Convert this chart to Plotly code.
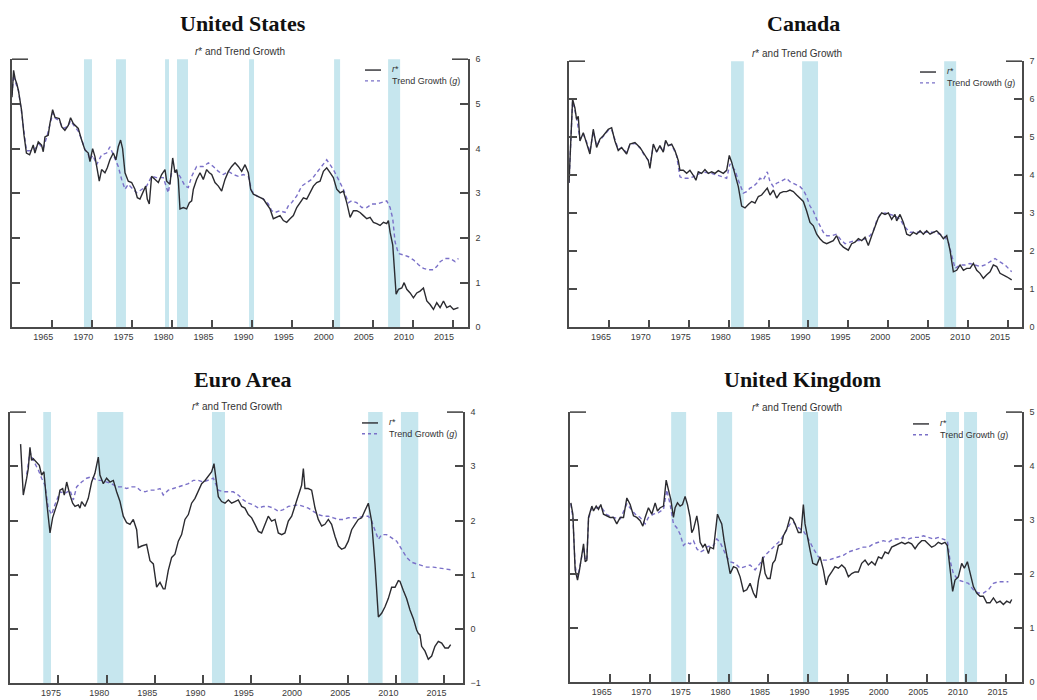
import plotly.graph_objects as go

# ---------------- United States ----------------
us_rstar_t = [1961.1, 1961.3, 1961.5, 1961.7, 1961.9, 1962.3, 1962.6, 1962.9, 1963.3, 1963.75, 1963.96,
              1964.38, 1964.79, 1965.0, 1965.21, 1965.62, 1965.83, 1966.17, 1966.46, 1967.0, 1967.29, 1967.7,
              1968.12, 1968.41, 1968.75, 1969.08, 1969.37, 1969.79, 1970.2, 1970.62, 1970.83, 1971.16, 1971.45,
              1971.74, 1971.99, 1972.28, 1972.7, 1972.99, 1973.32, 1973.74, 1974.07, 1974.36, 1974.65, 1974.9,
              1975.2, 1975.61, 1976.03, 1976.44, 1976.74, 1977.07, 1977.48, 1977.78, 1977.98, 1978.23, 1978.52,
              1978.94, 1979.36, 1979.77, 1980.19, 1980.4, 1980.81, 1981.15, 1981.44, 1981.65, 1981.85, 1982.06,
              1982.48, 1982.89, 1983.23, 1983.52, 1983.73, 1984.14, 1984.56, 1984.97, 1985.39, 1985.72, 1986.02,
              1986.43, 1986.85, 1987.26, 1987.68, 1988.1, 1988.51, 1988.93, 1989.34, 1989.76, 1990.18, 1990.59,
              1990.88, 1991.22, 1991.72, 1992.13, 1992.47, 1992.88, 1993.3, 1993.71, 1994.13, 1994.55, 1994.96,
              1995.38, 1995.79, 1996.21, 1996.63, 1997.04, 1997.46, 1997.88, 1998.29, 1998.71, 1999.12, 1999.54,
              1999.96, 2000.37, 2000.79, 2001.2, 2001.62, 2002.04, 2002.45, 2002.87, 2003.29, 2003.7, 2004.12,
              2004.53, 2004.95, 2005.37, 2005.78, 2006.2, 2006.61, 2007.03, 2007.45, 2007.86, 2008.07, 2008.28,
              2008.61, 2008.82, 2009.03, 2009.32, 2009.74, 2010.03, 2010.36, 2010.78, 2011.19, 2011.61, 2012.02,
              2012.44, 2012.86, 2013.27, 2013.69, 2014.1, 2014.52, 2014.94, 2015.35, 2015.77, 2016.19, 2016.81]
us_rstar = [5.15, 5.75, 5.55, 5.45, 5.3, 4.85, 4.3, 3.9, 3.86, 4.08, 3.9,
            4.15, 4.08, 3.93, 4.26, 4.3, 4.56, 4.87, 4.7, 4.67, 4.49, 4.41,
            4.52, 4.69, 4.56, 4.49, 4.45, 4.19, 3.97, 3.9, 3.71, 4.0, 3.82,
            3.53, 3.27, 3.53, 3.46, 3.57, 3.75, 3.9, 3.75, 4.04, 4.19, 4.0,
            3.46, 3.27, 3.24, 3.09, 2.9, 2.87, 3.05, 3.16, 2.87, 2.76, 3.38,
            3.31, 3.24, 3.42, 3.53, 3.27, 3.2, 3.79, 3.46, 3.53, 3.31, 2.65,
            2.68, 2.65, 2.79, 2.83, 3.09, 3.31, 3.46, 3.31, 3.53, 3.46, 3.42,
            3.24, 3.16, 3.05, 3.31, 3.49, 3.6, 3.68, 3.6, 3.49, 3.64, 3.46,
            3.09, 2.98, 2.94, 2.9, 2.87, 2.76, 2.65, 2.43, 2.46, 2.5, 2.39,
            2.35, 2.43, 2.5, 2.68, 2.79, 2.9, 2.87, 3.01, 3.16, 3.24, 3.27,
            3.49, 3.57, 3.46, 3.35, 3.09, 3.01, 3.05, 2.79, 2.46, 2.61, 2.61,
            2.57, 2.5, 2.43, 2.46, 2.35, 2.32, 2.28, 2.35, 2.32, 2.39, 2.13,
            1.84, 1.18, 0.74, 0.85, 0.88, 1.0, 0.85, 0.77, 0.66, 0.77, 0.81,
            0.88, 0.59, 0.51, 0.4, 0.55, 0.44, 0.59, 0.44, 0.48, 0.4, 0.44]
us_g_t = [1961.1, 1961.3, 1961.5, 1961.9, 1962.3, 1962.9, 1963.5, 1964.0, 1964.5, 1965.0, 1965.5, 1966.2,
          1966.5, 1967.0, 1967.5, 1968.1, 1968.4, 1968.8, 1969.1, 1969.4, 1969.8, 1970.2, 1970.6, 1970.8,
          1971.2, 1971.66, 1972.28, 1972.91, 1973.32, 1973.95, 1974.36, 1974.78, 1975.2, 1975.61, 1976.65,
          1977.9, 1978.52, 1979.15, 1979.98, 1980.6, 1981.02, 1981.44, 1982.06, 1982.69, 1983.1, 1983.52,
          1984.14, 1984.97, 1985.6, 1986.22, 1986.85, 1987.47, 1988.1, 1988.72, 1989.34, 1989.97, 1990.59,
          1991.01, 1991.63, 1992.47, 1993.09, 1993.5, 1993.92, 1994.55, 1995.17, 1995.59, 1996.0, 1996.63,
          1997.25, 1997.88, 1998.5, 1999.12, 1999.75, 2000.37, 2000.79, 2001.2, 2001.83, 2002.45, 2003.08,
          2003.49, 2004.12, 2004.74, 2005.37, 2005.99, 2006.61, 2007.24, 2007.86, 2008.28, 2008.61, 2008.9,
          2009.32, 2009.94, 2010.57, 2011.19, 2011.82, 2012.44, 2013.06, 2013.69, 2014.1, 2014.52, 2015.15,
          2015.77, 2016.39, 2016.81]
us_g = [5.2, 5.65, 5.5, 5.3, 4.8, 3.95, 3.95, 4.0, 4.1, 4.0, 4.3, 4.8,
        4.68, 4.62, 4.45, 4.5, 4.62, 4.52, 4.45, 4.38, 4.2, 3.98, 3.88, 3.75,
        3.85, 3.64, 3.86, 3.9, 4.04, 3.75, 3.6, 3.31, 3.09, 3.2, 3.01,
        3.16, 3.38, 3.35, 3.35, 3.01, 3.46, 3.5, 3.38, 3.16, 3.13, 3.38,
        3.6, 3.6, 3.68, 3.6, 3.49, 3.42, 3.49, 3.42, 3.38, 3.42, 3.38,
        3.05, 2.94, 2.87, 2.76, 2.61, 2.57, 2.61, 2.57, 2.72, 2.79, 2.94,
        3.16, 3.24, 3.31, 3.46, 3.6, 3.75, 3.64, 3.53, 3.31, 3.09, 2.79,
        2.83, 2.79, 2.68, 2.68, 2.76, 2.76, 2.79, 2.83, 2.68, 2.43, 1.91,
        1.65, 1.62, 1.58, 1.51, 1.4, 1.32, 1.29, 1.29, 1.36, 1.47, 1.54,
        1.54, 1.47, 1.54]
us_recessions = [(1970.08, 1971.08), (1974.08, 1975.32), (1980.2, 1980.69), (1981.69, 1983.06),
                 (1990.68, 1991.3), (2001.29, 2002.04), (2008.03, 2009.53)]

# ---------------- Canada ----------------
ca_rstar_t = [1961.0, 1961.2, 1961.45, 1961.74, 1961.95, 1962.16, 1962.37, 1962.79, 1963.2, 1963.62, 1964.04,
              1964.46, 1964.87, 1965.29, 1965.92, 1966.34, 1966.75, 1967.17, 1967.59, 1968.22, 1968.63, 1969.26,
              1969.89, 1970.51, 1970.93, 1971.14, 1971.56, 1971.98, 1972.39, 1972.81, 1973.1, 1973.44, 1973.86,
              1974.27, 1974.69, 1974.9, 1975.32, 1975.74, 1976.15, 1976.57, 1976.9, 1977.2, 1977.61, 1978.03,
              1978.45, 1978.87, 1979.29, 1979.7, 1980.33, 1980.75, 1981.08, 1981.37, 1981.79, 1982.21, 1982.63,
              1983.05, 1983.46, 1983.88, 1984.3, 1984.72, 1985.13, 1985.55, 1985.84, 1986.18, 1986.6, 1987.01,
              1987.43, 1987.85, 1988.27, 1988.68, 1989.1, 1989.52, 1989.94, 1990.36, 1990.77, 1991.19, 1991.61,
              1992.03, 1992.44, 1992.86, 1993.28, 1993.7, 1994.11, 1994.53, 1994.95, 1995.37, 1995.99, 1996.41,
              1996.83, 1997.25, 1997.67, 1998.08, 1998.5, 1998.92, 1999.34, 1999.75, 2000.17, 2000.59, 2001.01,
              2001.42, 2001.84, 2002.05, 2002.47, 2002.89, 2003.31, 2003.72, 2004.14, 2004.56, 2004.98, 2005.39,
              2005.81, 2006.23, 2006.65, 2007.06, 2007.48, 2007.9, 2008.32, 2008.53, 2008.73, 2009.15, 2009.57,
              2009.99, 2010.41, 2010.82, 2011.24, 2011.66, 2012.08, 2012.49, 2012.91, 2013.33, 2013.75, 2014.16,
              2014.58, 2015.0, 2015.42, 2015.84, 2016.46]
ca_rstar = [3.8, 5.0, 6.0, 5.77, 5.47, 5.55, 4.9, 5.12, 4.86, 4.56, 5.21,
            4.73, 4.95, 5.04, 5.21, 5.25, 4.9, 4.65, 4.73, 4.56, 4.82, 4.86,
            4.73, 4.52, 4.39, 4.18, 4.82, 4.61, 4.78, 4.61, 4.92, 4.78, 4.82,
            4.65, 4.39, 4.13, 4.13, 4.05, 4.13, 4.0, 3.87, 4.09, 4.05, 4.15,
            4.05, 4.09, 4.05, 4.12, 4.05, 4.13, 4.52, 4.35, 4.05, 3.7, 3.19,
            3.14, 3.23, 3.31, 3.27, 3.44, 3.48, 3.57, 3.66, 3.48, 3.61, 3.4,
            3.53, 3.57, 3.57, 3.61, 3.57, 3.48, 3.4, 3.31, 3.06, 2.76, 2.67,
            2.45, 2.33, 2.24, 2.2, 2.24, 2.28, 2.41, 2.2, 2.11, 2.03, 2.2,
            2.24, 2.33, 2.28, 2.37, 2.15, 2.41, 2.67, 2.88, 3.01, 2.97, 3.01,
            2.84, 2.97, 2.8, 2.97, 2.76, 2.45, 2.41, 2.5, 2.45, 2.54, 2.45,
            2.54, 2.45, 2.5, 2.54, 2.45, 2.33, 2.41, 2.2, 2.03, 1.46, 1.5,
            1.64, 1.5, 1.55, 1.55, 1.68, 1.5, 1.42, 1.29, 1.38, 1.46, 1.64,
            1.6, 1.42, 1.38, 1.33, 1.25]
ca_g_t = [1961.0, 1961.2, 1961.45, 1961.74, 1962.0, 1962.37, 1962.79, 1963.2, 1963.62, 1964.04, 1964.46,
          1964.87, 1965.29, 1965.92, 1966.34, 1966.75, 1967.17, 1967.59, 1968.22, 1968.63, 1969.26, 1969.89,
          1970.51, 1970.93, 1971.14, 1971.56, 1971.98, 1972.39, 1972.81, 1973.1, 1973.44, 1973.86, 1974.48,
          1974.9, 1975.32, 1975.94, 1976.57, 1977.41, 1978.03, 1978.87, 1979.7, 1980.75, 1981.17, 1981.79,
          1982.21, 1982.84, 1983.25, 1983.67, 1984.09, 1984.51, 1984.92, 1985.34, 1985.84, 1986.18, 1986.6,
          1987.01, 1987.43, 1987.85, 1988.27, 1988.68, 1989.1, 1989.52, 1989.94, 1990.36, 1990.77, 1991.19,
          1991.61, 1992.03, 1992.44, 1992.86, 1993.28, 1993.91, 1994.53, 1994.95, 1995.58, 1996.2, 1996.83,
          1997.46, 1998.08, 1998.71, 1999.13, 1999.54, 1999.96, 2000.59, 2001.22, 2001.84, 2002.47, 2003.1,
          2003.72, 2004.35, 2004.98, 2005.81, 2006.65, 2007.48, 2008.11, 2008.53, 2008.94, 2009.36, 2009.99,
          2010.61, 2011.24, 2011.87, 2012.49, 2013.12, 2013.75, 2014.37, 2015.0, 2015.63, 2016.46]
ca_g = [3.8, 5.0, 5.95, 5.7, 5.45, 4.95, 5.08, 4.88, 4.62, 5.15, 4.78,
        4.92, 5.02, 5.18, 5.2, 4.92, 4.68, 4.72, 4.6, 4.8, 4.84, 4.72,
        4.5, 4.4, 4.25, 4.78, 4.62, 4.75, 4.62, 4.88, 4.78, 4.8, 4.52,
        3.96, 3.92, 3.92, 3.96, 4.05, 4.08, 4.05, 4.0, 3.92, 4.3, 4.13,
        3.87, 3.53, 3.57, 3.66, 3.7, 3.79, 3.92, 3.87, 4.09, 3.83, 3.7,
        3.79, 3.83, 3.87, 3.92, 3.83, 3.79, 3.75, 3.7, 3.61, 3.44, 3.19,
        3.06, 2.84, 2.67, 2.5, 2.41, 2.41, 2.45, 2.33, 2.2, 2.24, 2.28,
        2.28, 2.33, 2.41, 2.54, 2.8, 2.97, 3.01, 2.97, 2.93, 2.84, 2.63,
        2.5, 2.5, 2.5, 2.5, 2.5, 2.45, 2.37, 2.24, 1.9, 1.55, 1.64,
        1.64, 1.68, 1.64, 1.6, 1.64, 1.72, 1.81, 1.72, 1.64, 1.46]
ca_recessions = [(1981.3, 1982.9), (1990.2, 1992.2), (2008.0, 2009.5)]

# ---------------- Euro Area ----------------
ea_rstar_t = [1971.85, 1972.13, 1972.48, 1972.65, 1972.82, 1972.99, 1973.17, 1973.51, 1973.79, 1974.03, 1974.27,
              1974.48, 1974.72, 1974.9, 1975.17, 1975.41, 1975.76, 1975.93, 1976.21, 1976.38, 1976.63, 1976.97,
              1977.25, 1977.49, 1977.84, 1978.01, 1978.18, 1978.53, 1978.87, 1979.22, 1979.56, 1979.91, 1980.08,
              1980.43, 1980.77, 1981.12, 1981.47, 1981.81, 1982.16, 1982.5, 1982.85, 1983.2, 1983.54, 1983.89,
              1984.06, 1984.41, 1984.92, 1985.27, 1985.62, 1985.96, 1986.31, 1986.65, 1986.83, 1987.17, 1987.52,
              1987.86, 1988.21, 1988.55, 1988.9, 1989.25, 1989.59, 1989.94, 1990.28, 1990.63, 1990.98, 1991.32,
              1991.67, 1991.91, 1992.12, 1992.36, 1992.7, 1993.05, 1993.4, 1993.74, 1994.09, 1994.43, 1994.78,
              1995.12, 1995.47, 1995.82, 1996.16, 1996.51, 1996.85, 1997.2, 1997.54, 1997.89, 1998.24, 1998.58,
              1998.93, 1999.27, 1999.62, 1999.97, 2000.31, 2000.66, 2001.0, 2001.18, 2001.35, 2001.69, 2002.04,
              2002.39, 2002.73, 2003.08, 2003.42, 2003.77, 2004.11, 2004.46, 2004.81, 2005.15, 2005.5, 2005.84,
              2006.19, 2006.54, 2006.88, 2007.23, 2007.57, 2007.92, 2008.26, 2008.61, 2008.96, 2009.3, 2009.65,
              2009.99, 2010.34, 2010.69, 2011.03, 2011.2, 2011.55, 2011.89, 2012.24, 2012.59, 2012.93, 2013.1,
              2013.28, 2013.45, 2013.8, 2014.14, 2014.49, 2014.83, 2015.18, 2015.53, 2015.87, 2016.22, 2016.46]
ea_rstar = [3.41, 2.47, 2.78, 2.96, 3.35, 3.11, 3.14, 3.08, 3.02, 2.84, 2.9,
            2.47, 2.11, 1.77, 2.05, 2.2, 2.38, 2.56, 2.59, 2.47, 2.71, 2.47,
            2.32, 2.26, 2.29, 2.23, 2.35, 2.26, 2.41, 2.71, 2.87, 3.17, 2.84,
            2.68, 2.78, 2.71, 2.74, 2.53, 2.35, 2.08, 1.96, 1.93, 2.02, 1.83,
            1.5, 1.53, 1.56, 1.26, 1.2, 0.77, 0.86, 0.74, 0.74, 1.08, 1.32,
            1.38, 1.62, 1.74, 2.02, 2.11, 2.32, 2.41, 2.56, 2.68, 2.74, 2.81,
            2.9, 3.05, 2.71, 2.44, 2.35, 2.32, 2.38, 2.32, 2.35, 2.38, 2.26,
            2.23, 2.11, 2.05, 1.93, 1.8, 1.77, 1.93, 2.08, 1.99, 2.02, 1.77,
            1.74, 1.77, 1.99, 2.08, 2.26, 2.47, 2.65, 2.96, 2.59, 2.59, 2.56,
            2.23, 2.02, 1.9, 1.93, 2.02, 1.93, 1.71, 1.53, 1.47, 1.5, 1.62,
            1.83, 1.93, 2.02, 2.05, 2.2, 2.32, 1.99, 1.2, 0.22, 0.29, 0.41,
            0.56, 0.77, 0.77, 0.89, 0.88, 0.71, 0.56, 0.35, 0.19, -0.02, -0.08,
            -0.11, -0.32, -0.41, -0.56, -0.5, -0.32, -0.23, -0.26, -0.35, -0.35, -0.29]
ea_g_t = [1972.48, 1972.82, 1973.17, 1973.69, 1974.03, 1974.38, 1974.72, 1975.07, 1975.41, 1975.93, 1976.45,
          1976.97, 1977.32, 1977.66, 1978.18, 1978.7, 1979.22, 1979.74, 1980.26, 1980.77, 1981.29, 1981.81,
          1982.33, 1982.85, 1983.37, 1983.89, 1984.23, 1984.75, 1985.27, 1985.79, 1986.31, 1986.65, 1987.17,
          1987.69, 1988.21, 1988.73, 1989.25, 1989.76, 1990.28, 1990.8, 1991.32, 1991.84, 1992.36, 1992.88,
          1993.4, 1993.91, 1994.43, 1994.95, 1995.47, 1995.99, 1996.51, 1997.03, 1997.54, 1998.06, 1998.58,
          1999.1, 1999.62, 2000.14, 2000.66, 2001.18, 2001.69, 2002.21, 2002.73, 2003.25, 2003.77, 2004.29,
          2004.81, 2005.33, 2005.84, 2006.36, 2006.88, 2007.4, 2007.92, 2008.26, 2008.61, 2008.96, 2009.3,
          2009.82, 2010.34, 2010.86, 2011.38, 2011.89, 2012.41, 2012.93, 2013.45, 2013.97, 2014.66, 2015.35,
          2016.04, 2016.56]
ea_g = [2.85, 3.26, 3.11, 2.93, 2.78, 2.65, 2.23, 2.11, 2.29, 2.53, 2.5,
        2.56, 2.38, 2.62, 2.71, 2.78, 2.81, 2.74, 2.74, 2.71, 2.68, 2.62,
        2.62, 2.59, 2.62, 2.62, 2.56, 2.53, 2.56, 2.56, 2.59, 2.47, 2.56,
        2.59, 2.62, 2.65, 2.68, 2.74, 2.74, 2.71, 2.74, 2.78, 2.56, 2.53,
        2.53, 2.53, 2.47, 2.38, 2.32, 2.29, 2.23, 2.26, 2.26, 2.23, 2.17,
        2.2, 2.26, 2.28, 2.29, 2.26, 2.23, 2.17, 2.11, 2.08, 2.08, 2.05,
        2.02, 2.02, 2.05, 2.05, 2.05, 2.08, 2.08, 1.99, 1.8, 1.65, 1.74,
        1.74, 1.68, 1.62, 1.47, 1.32, 1.23, 1.2, 1.17, 1.14, 1.14, 1.12,
        1.11, 1.09]
ea_recessions = [(1974.2, 1975.0), (1979.8, 1982.5), (1991.7, 1993.05), (2007.9, 2009.4), (2011.3, 2013.1)]

# ---------------- United Kingdom ----------------
uk_rstar_t = [1961.11, 1961.36, 1961.65, 1961.95, 1962.2, 1962.5, 1962.71, 1962.92, 1963.13, 1963.34, 1963.55,
              1963.76, 1963.97, 1964.31, 1964.6, 1964.89, 1965.23, 1965.65, 1966.07, 1966.49, 1966.91, 1967.34,
              1967.76, 1968.18, 1968.6, 1969.02, 1969.44, 1969.86, 1970.2, 1970.49, 1970.91, 1971.33, 1971.76,
              1972.05, 1972.39, 1972.81, 1973.15, 1973.44, 1973.74, 1974.07, 1974.28, 1974.58, 1974.91, 1975.21,
              1975.54, 1975.84, 1976.17, 1976.38, 1976.6, 1977.02, 1977.23, 1977.44, 1977.78, 1978.07, 1978.28,
              1978.49, 1978.7, 1979.13, 1979.34, 1979.63, 1979.88, 1980.17, 1980.47, 1980.81, 1981.23, 1981.65,
              1982.07, 1982.49, 1982.92, 1983.33, 1983.75, 1984.17, 1984.51, 1984.81, 1985.1, 1985.35, 1985.65,
              1985.94, 1986.28, 1986.61, 1986.91, 1987.33, 1987.75, 1987.96, 1988.38, 1988.8, 1989.14, 1989.43,
              1989.85, 1990.19, 1990.48, 1990.69, 1990.99, 1991.33, 1991.67, 1992.17, 1992.59, 1993.01, 1993.35,
              1993.64, 1994.06, 1994.48, 1994.9, 1995.33, 1995.75, 1996.17, 1996.59, 1997.01, 1997.43, 1997.85,
              1998.27, 1998.69, 1999.11, 1999.54, 1999.96, 2000.38, 2000.8, 2001.22, 2001.64, 2002.06, 2002.48,
              2002.9, 2003.32, 2003.74, 2004.16, 2004.59, 2005.01, 2005.43, 2005.85, 2006.27, 2006.69, 2007.11,
              2007.53, 2007.95, 2008.37, 2008.67, 2009.0, 2009.34, 2009.64, 2010.06, 2010.48, 2010.82, 2011.2,
              2011.54, 2011.96, 2012.38, 2012.8, 2013.22, 2013.64, 2014.06, 2014.49, 2014.91, 2015.33, 2015.75,
              2016.17, 2016.59, 2016.8]
uk_rstar = [3.32, 3.11, 2.08, 1.89, 2.08, 2.38, 2.56, 2.23, 2.26, 3.05, 3.17,
            3.26, 3.17, 3.26, 3.2, 3.29, 3.11, 3.08, 3.05, 3.05, 2.93, 3.05,
            3.05, 3.41, 3.29, 3.08, 3.05, 2.99, 2.89, 3.05, 3.23, 3.11, 3.32,
            3.17, 3.23, 3.26, 3.74, 3.56, 3.38, 3.05, 3.23, 3.32, 3.26, 3.29,
            3.44, 3.29, 3.05, 2.77, 2.83, 3.08, 2.89, 2.59, 2.5, 2.56, 2.47,
            2.38, 2.5, 2.47, 2.74, 3.11, 3.02, 2.93, 2.62, 2.32, 2.01, 2.14,
            2.11, 1.95, 1.68, 1.71, 1.83, 1.65, 1.56, 1.89, 2.08, 2.32, 2.01,
            1.92, 1.92, 2.2, 2.26, 2.53, 2.56, 2.71, 2.83, 3.05, 3.02, 2.93,
            2.77, 2.77, 3.29, 2.93, 2.68, 2.44, 2.2, 2.17, 2.32, 2.08, 1.8,
            1.95, 2.04, 2.14, 2.11, 2.17, 2.11, 1.95, 2.01, 2.04, 2.04, 2.2,
            2.26, 2.17, 2.23, 2.17, 2.32, 2.29, 2.41, 2.38, 2.5, 2.53, 2.56,
            2.59, 2.56, 2.59, 2.56, 2.47, 2.56, 2.62, 2.62, 2.56, 2.5, 2.53,
            2.59, 2.56, 2.59, 2.53, 2.11, 1.68, 1.89, 1.95, 2.2, 2.11, 2.23,
            2.01, 1.77, 1.65, 1.59, 1.59, 1.47, 1.47, 1.56, 1.47, 1.5, 1.44,
            1.5, 1.47, 1.53]
uk_g_t = [1961.11, 1961.36, 1961.65, 1961.95, 1962.2, 1962.5, 1962.71, 1962.92, 1963.13, 1963.34, 1963.55,
          1963.76, 1964.31, 1964.89, 1965.65, 1966.49, 1967.34, 1968.18, 1968.6, 1969.23, 1969.86, 1970.49,
          1970.91, 1971.54, 1972.18, 1972.81, 1973.23, 1973.65, 1974.07, 1974.49, 1974.91, 1975.33, 1975.75,
          1976.17, 1976.6, 1977.02, 1977.44, 1977.86, 1978.28, 1978.7, 1979.13, 1979.55, 1979.96, 1980.38,
          1980.81, 1981.23, 1981.86, 1982.49, 1983.13, 1983.75, 1984.38, 1985.01, 1985.65, 1986.28, 1986.91,
          1987.54, 1988.17, 1988.8, 1989.22, 1989.85, 1990.48, 1991.12, 1991.75, 1992.38, 1993.01, 1993.64,
          1994.27, 1994.9, 1995.54, 1996.17, 1996.8, 1997.43, 1998.06, 1998.69, 1999.32, 1999.96, 2000.59,
          2001.22, 2001.85, 2002.48, 2003.11, 2003.74, 2004.37, 2005.01, 2005.64, 2006.27, 2006.9, 2007.53,
          2008.16, 2008.67, 2009.0, 2009.43, 2010.06, 2010.69, 2011.33, 2011.96, 2012.59, 2013.22, 2013.85,
          2014.49, 2015.12, 2015.75, 2016.38]
uk_g = [3.3, 3.05, 2.15, 1.95, 2.1, 2.35, 2.5, 2.25, 2.3, 3.0, 3.15,
        3.22, 3.22, 3.25, 3.1, 3.05, 3.02, 3.3, 3.23, 3.11, 3.05, 2.93,
        3.05, 3.11, 3.14, 3.2, 3.56, 3.29, 2.93, 2.86, 2.74, 2.53, 2.59,
        2.56, 2.62, 2.47, 2.41, 2.44, 2.5, 2.53, 2.53, 2.65, 2.59, 2.44,
        2.32, 2.23, 2.2, 2.11, 2.14, 2.17, 2.08, 2.2, 2.35, 2.44, 2.53,
        2.62, 2.77, 2.93, 2.96, 2.86, 2.8, 2.65, 2.47, 2.32, 2.26, 2.26,
        2.29, 2.32, 2.35, 2.41, 2.44, 2.47, 2.5, 2.5, 2.56, 2.59, 2.62,
        2.59, 2.65, 2.65, 2.68, 2.65, 2.68, 2.68, 2.71, 2.68, 2.65, 2.68,
        2.65, 2.62, 2.26, 2.01, 1.89, 1.86, 1.83, 1.71, 1.65, 1.65, 1.71,
        1.83, 1.86, 1.86, 1.86]
uk_recessions = [(1973.78, 1975.67), (1979.58, 1981.48), (1990.44, 1992.34), (2008.5, 2010.14), (2010.78, 2012.42)]

years_from_1965 = [1965, 1970, 1975, 1980, 1985, 1990, 1995, 2000, 2005, 2010, 2015]
years_from_1975 = [1975, 1980, 1985, 1990, 1995, 2000, 2005, 2010, 2015]

# ---------------- styling ----------------
W, H = 1037, 700
RSTAR_COLOR = "#2b2b30"
G_COLOR = "#7a70c8"
SHADE = "#c6e6ee"
AXIS = "#4a4a4a"
TICKFONT = dict(family="Liberation Sans, Arial, sans-serif", size=9, color="#3a3a3a")
SANS = "Liberation Sans, Arial, sans-serif"
SERIF = "Liberation Serif, Times New Roman, serif"


def fx(px):
    return px / W


def fy(py):
    return 1 - py / H


panels = [
    dict(name="United States", rt=us_rstar_t, r=us_rstar, gt=us_g_t, g=us_g, rec=us_recessions,
         box=(12, 468, 55, 327), xr=(1961.1, 2018.0), yr=(0, 6), years=years_from_1965, lag=1.1,
         title=(243, 19), sub=(240, 47), leg=(365, 66)),
    dict(name="Canada", rt=ca_rstar_t, r=ca_rstar, gt=ca_g_t, g=ca_g, rec=ca_recessions,
         box=(569, 1022, 57, 327), xr=(1961.0, 2017.75), yr=(0, 7), years=years_from_1965, lag=1.0,
         title=(803, 19), sub=(797, 49), leg=(920, 68)),
    dict(name="Euro Area", rt=ea_rstar_t, r=ea_rstar, gt=ea_g_t, g=ea_g, rec=ea_recessions,
         box=(10, 463, 413, 688), xr=(1970.75, 2017.74), yr=(-1, 4), years=years_from_1975, lag=0.78,
         title=(243, 380), sub=(237, 407), leg=(362, 424)),
    dict(name="United Kingdom", rt=uk_rstar_t, r=uk_rstar, gt=uk_g_t, g=uk_g, rec=uk_recessions,
         box=(570, 1022, 413, 687), xr=(1961.0, 2018.1), yr=(0, 5), years=years_from_1965, lag=1.07,
         title=(802, 380), sub=(797, 408), leg=(913, 425)),
]

fig = go.Figure()
shapes = []
annotations = []
layout_axes = {}
n = len(panels)

for i, p in enumerate(panels, start=1):
    sfx = "" if i == 1 else str(i)
    xref, yref = "x" + sfx, "y" + sfx
    lab = str(i + n)          # companion x axis carrying the year labels
    xlab = "x" + lab
    x0, x1, y0, y1 = p["box"]

    fig.add_trace(go.Scatter(x=p["gt"], y=p["g"], mode="lines", xaxis=xref, yaxis=yref,
                             line=dict(color=G_COLOR, width=1.4, dash="4px,3px"),
                             name="Trend Growth (g)", showlegend=False, hoverinfo="skip"))
    # r* is drawn against the label axis, which shares the same domain and range
    fig.add_trace(go.Scatter(x=p["rt"], y=p["r"], mode="lines", xaxis=xlab, yaxis=yref,
                             line=dict(color=RSTAR_COLOR, width=1.4),
                             name="r*", showlegend=False, hoverinfo="skip"))

    # main x axis: line and tick marks (marks sit at the right end of each year label)
    layout_axes["xaxis" + sfx] = dict(
        domain=[fx(x0), fx(x1)], range=list(p["xr"]), anchor=yref,
        showline=True, linecolor=AXIS, linewidth=1.6, showgrid=False, zeroline=False,
        tickmode="array", tickvals=[v + p["lag"] for v in p["years"]],
        ticks="inside", ticklen=8, tickwidth=1.6, tickcolor=AXIS, showticklabels=False,
    )
    # overlaid x axis: year labels centred on the years
    layout_axes["xaxis" + lab] = dict(
        domain=[fx(x0), fx(x1)], range=list(p["xr"]), anchor=yref, overlaying=xref, side="bottom",
        showline=False, showgrid=False, zeroline=False, ticks="",
        tickmode="array", tickvals=p["years"], ticktext=[str(v) for v in p["years"]],
        tickfont=TICKFONT, ticklabelstandoff=3,
    )
    layout_axes["yaxis" + sfx] = dict(
        domain=[fy(y1), fy(y0)], range=list(p["yr"]), anchor=xref, side="right",
        showline=True, mirror="ticks", linecolor=AXIS, linewidth=1.6, showgrid=False, zeroline=False,
        tickmode="linear", tick0=p["yr"][0], dtick=1, ticks="inside", ticklen=8, tickwidth=1.6,
        tickcolor=AXIS, tickfont=TICKFONT, ticklabelstandoff=4,
    )

    # recession bands
    for a, b in p["rec"]:
        shapes.append(dict(type="rect", xref=xref, yref=yref + " domain", x0=a, x1=b, y0=0, y1=1,
                           fillcolor=SHADE, line=dict(width=0), layer="below"))

    # longer end caps at the top of both vertical axes
    for anchor, d in ((0, 16), (1, -16)):
        shapes.append(dict(type="line", xref=xref + " domain", yref=yref + " domain",
                           xsizemode="pixel", xanchor=anchor, x0=0, x1=d, y0=1, y1=1,
                           line=dict(color=AXIS, width=1.6)))

    # titles
    tx, ty = p["title"]
    annotations.append(dict(text="<b>%s</b>" % p["name"], xref="paper", yref="paper", x=fx(tx), y=fy(ty),
                            showarrow=False, xanchor="center", yanchor="middle",
                            font=dict(family=SERIF, size=22, color="#111")))
    sx, sy = p["sub"]
    annotations.append(dict(text="<i>r</i>* and Trend Growth", xref="paper", yref="paper", x=fx(sx), y=fy(sy),
                            showarrow=False, xanchor="center", yanchor="middle",
                            font=dict(family=SANS, size=10, color="#333")))

    # legend
    lx, ly = p["leg"]
    shapes.append(dict(type="line", xref="paper", yref="paper", x0=fx(lx), x1=fx(lx + 16), y0=fy(ly), y1=fy(ly),
                       line=dict(color=RSTAR_COLOR, width=1.4)))
    shapes.append(dict(type="line", xref="paper", yref="paper", x0=fx(lx), x1=fx(lx + 16), y0=fy(ly + 11),
                       y1=fy(ly + 11), line=dict(color=G_COLOR, width=1.4, dash="3px,3px")))
    annotations.append(dict(text="<i>r</i>*", xref="paper", yref="paper", x=fx(lx + 25), y=fy(ly - 1),
                            showarrow=False, xanchor="left", yanchor="middle",
                            font=dict(family=SANS, size=9, color="#333")))
    annotations.append(dict(text="Trend Growth (<i>g</i>)", xref="paper", yref="paper", x=fx(lx + 25),
                            y=fy(ly + 11), showarrow=False, xanchor="left", yanchor="middle",
                            font=dict(family=SANS, size=9, color="#333")))

fig.update_layout(
    width=W, height=H, margin=dict(l=0, r=0, t=0, b=0),
    paper_bgcolor="white", plot_bgcolor="white",
    showlegend=False, shapes=shapes, annotations=annotations, **layout_axes,
)

fig.write_html("out.html")
